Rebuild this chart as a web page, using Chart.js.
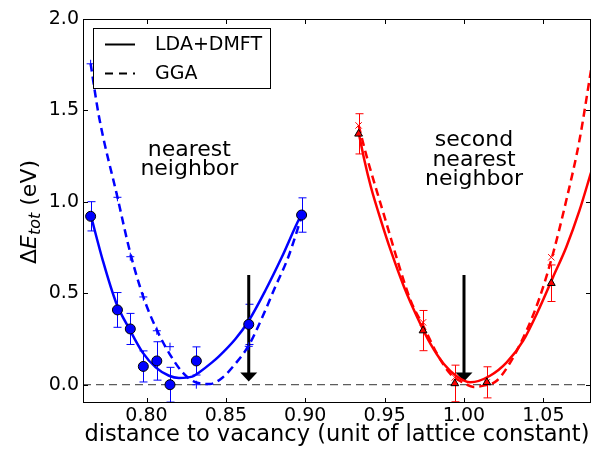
<!DOCTYPE html>
<html>
<head>
<meta charset="utf-8">
<script src="https://cdn.jsdelivr.net/npm/chart.js@4.4.0/dist/chart.umd.min.js"></script>
<style>
  html, body { margin: 0; padding: 0; background: #fff; }
  #chart { display: block; }
</style>
</head>
<body>
<canvas id="chart" width="597" height="450"></canvas>
<script>
// nearest neighbour (blue) data
const blueDistance = [0.7648, 0.7817, 0.7898, 0.798, 0.8065, 0.8148, 0.8314, 0.8644, 0.8977];
const blueLdaDmft = [0.921, 0.409, 0.305, 0.1, 0.13, 0.0, 0.13, 0.33, 0.928];
const blueLdaDmftErr = [0.08, 0.095, 0.085, 0.085, 0.105, 0.095, 0.077, 0.11, 0.094];
const blueGga = [1.755, 1.025, 0.7, 0.48, 0.295, 0.208, 0.0, 0.21, 0.92];

// second nearest neighbour (red) data
const redDistance = [0.9336, 0.9742, 0.9942, 1.0144, 1.055];
const redLdaDmft = [1.372, 0.296, 0.007, 0.013, 0.555];
const redLdaDmftErr = [0.11, 0.11, 0.1, 0.085, 0.1];
const redGga = [1.418, 0.341, 0.04, 0.013, 0.697];

// fitted curves
const blueFitX = [0.7648, 0.7725, 0.7808, 0.7892, 0.7975, 0.8058, 0.8142, 0.8204, 0.8288, 0.8331, 0.8413, 0.8456, 0.856, 0.8644, 0.8748, 0.8852, 0.8967, 0.8977];
const blueFitY = [0.93, 0.679, 0.45, 0.305, 0.177, 0.095, 0.049, 0.037, 0.044, 0.067, 0.122, 0.155, 0.25, 0.35, 0.514, 0.697, 0.916, 0.93];
const blueGgaFitX = [0.7648, 0.77, 0.7817, 0.7898, 0.798, 0.8065, 0.8148, 0.823, 0.8314, 0.84, 0.848, 0.856, 0.8644, 0.873, 0.881, 0.8894, 0.8977];
const blueGgaFitY = [1.755, 1.47, 1.025, 0.72, 0.48, 0.3, 0.165, 0.065, 0.012, 0.004, 0.04, 0.115, 0.215, 0.37, 0.533, 0.7, 0.92];
const redFitX = [0.9336, 0.9373, 0.9414, 0.9477, 0.9539, 0.9623, 0.9706, 0.9789, 0.9873, 0.9956, 1.004, 1.0164, 1.0269, 1.0373, 1.0477, 1.056, 1.0644, 1.0727, 1.08];
const redFitY = [1.381, 1.226, 1.08, 0.898, 0.733, 0.533, 0.368, 0.223, 0.113, 0.045, 0.013, 0.049, 0.122, 0.241, 0.423, 0.587, 0.752, 0.952, 1.16];
const redGgaFitX = [0.9336, 0.9394, 0.9456, 0.9519, 0.9581, 0.9664, 0.9748, 0.9831, 0.9914, 0.9998, 1.006, 1.0123, 1.0206, 1.029, 1.0394, 1.0477, 1.056, 1.0644, 1.0727, 1.08];
const redGgaFitY = [1.418, 1.226, 1.044, 0.861, 0.679, 0.46, 0.314, 0.168, 0.059, 0.01, -0.012, -0.005, 0.022, 0.12, 0.296, 0.478, 0.715, 1.007, 1.335, 1.72];

// arrows marking the vacancy distances
const arrowX = [0.8644, 1.0];
const arrowTop = [0.6, 0.6];
const arrowTip = [0.018, 0.018];

const xTicks = [0.80, 0.85, 0.90, 0.95, 1.00, 1.05];
const yTicks = [0.0, 0.5, 1.0, 1.5, 2.0];
const legendLabels = ["LDA+DMFT", "GGA"];
const nearestLabel = ["nearest", "neighbor"];
const secondLabel = ["second", "nearest", "neighbor"];

const FONT = '"DejaVu Sans", sans-serif';
const BLUE = "#0000ff";
const RED = "#ff0000";

function pts(xs, ys) {
  return xs.map((x, i) => ({ x: x, y: ys[i] }));
}

// error bars, arrows, frame, inward ticks, legend, labels
const decorPlugin = {
  id: "decor",
  beforeDatasetsDraw(chart) {
    const ctx = chart.ctx;
    const xs = chart.scales.x, ys = chart.scales.y;
    const area = chart.chartArea;
    ctx.save();
    ctx.beginPath();
    ctx.rect(area.left, area.top, area.right - area.left, area.bottom - area.top);
    ctx.clip();

    function errBars(xv, yv, ev, color) {
      ctx.strokeStyle = color;
      ctx.lineWidth = 1;
      xv.forEach((x, i) => {
        const px = Math.round(xs.getPixelForValue(x)) + 0.5;
        const top = ys.getPixelForValue(yv[i] + ev[i]);
        const bot = ys.getPixelForValue(yv[i] - ev[i]);
        ctx.beginPath();
        ctx.moveTo(px, top); ctx.lineTo(px, bot);
        ctx.moveTo(px - 4, top); ctx.lineTo(px + 4, top);
        ctx.moveTo(px - 4, bot); ctx.lineTo(px + 4, bot);
        ctx.stroke();
      });
    }
    errBars(blueDistance, blueLdaDmft, blueLdaDmftErr, BLUE);
    errBars(redDistance, redLdaDmft, redLdaDmftErr, RED);

    // arrows
    ctx.fillStyle = "#000";
    ctx.strokeStyle = "#000";
    arrowX.forEach((x, i) => {
      const px = xs.getPixelForValue(x);
      const top = ys.getPixelForValue(arrowTop[i]);
      const tip = ys.getPixelForValue(arrowTip[i]);
      ctx.lineWidth = 3;
      ctx.beginPath();
      ctx.moveTo(px, top); ctx.lineTo(px, tip - 8);
      ctx.stroke();
      ctx.beginPath();
      ctx.moveTo(px - 8.5, tip - 9);
      ctx.lineTo(px + 8.5, tip - 9);
      ctx.lineTo(px, tip);
      ctx.closePath();
      ctx.fill();
    });
    ctx.restore();
  },
  afterDraw(chart) {
    const ctx = chart.ctx;
    const xs = chart.scales.x, ys = chart.scales.y;
    const a = chart.chartArea;
    ctx.save();
    // frame
    ctx.strokeStyle = "#000";
    ctx.lineWidth = 1;
    ctx.strokeRect(Math.round(a.left) + 0.5, Math.round(a.top) + 0.5, Math.round(a.right - a.left) - 1, Math.round(a.bottom - a.top) - 1);
    // inward ticks on all sides
    ctx.beginPath();
    xTicks.forEach(v => {
      const px = Math.round(xs.getPixelForValue(v)) + 0.5;
      ctx.moveTo(px, a.bottom); ctx.lineTo(px, a.bottom - 5);
      ctx.moveTo(px, a.top); ctx.lineTo(px, a.top + 5);
    });
    yTicks.forEach(v => {
      const py = Math.round(ys.getPixelForValue(v)) + 0.5;
      ctx.moveTo(a.left, py); ctx.lineTo(a.left + 5, py);
      ctx.moveTo(a.right, py); ctx.lineTo(a.right - 5, py);
    });
    ctx.stroke();

    // legend
    const lx = a.left + 10, ly = a.top + 9;
    ctx.fillStyle = "#fff";
    ctx.fillRect(lx, ly, 177, 60);
    ctx.strokeStyle = "#000";
    ctx.strokeRect(lx + 0.5, ly + 0.5, 177, 60);
    ctx.lineWidth = 2;
    ctx.beginPath();
    ctx.moveTo(lx + 12, ly + 16.5); ctx.lineTo(lx + 42, ly + 16.5);
    ctx.stroke();
    ctx.setLineDash([8, 6]);
    ctx.beginPath();
    ctx.moveTo(lx + 12, ly + 45.5); ctx.lineTo(lx + 42, ly + 45.5);
    ctx.stroke();
    ctx.setLineDash([]);
    ctx.fillStyle = "#000";
    ctx.font = "19px " + FONT;
    ctx.textBaseline = "middle";
    ctx.textAlign = "left";
    ctx.fillText(legendLabels[0], lx + 62, ly + 17);
    ctx.fillText(legendLabels[1], lx + 62, ly + 46);

    // region labels
    ctx.font = "22px " + FONT;
    ctx.textAlign = "center";
    const n1x = xs.getPixelForValue(0.827), n1y = ys.getPixelForValue(1.28);
    nearestLabel.forEach((t, i) => ctx.fillText(t, n1x, n1y + i * 19));
    const n2x = xs.getPixelForValue(1.0063), n2y = ys.getPixelForValue(1.335);
    secondLabel.forEach((t, i) => ctx.fillText(t, n2x, n2y + i * 19.5));

    // y axis title: ΔE_tot (eV)
    const parts = [
      ["\u0394", "22px " + FONT, 0],
      ["E", "italic 22px " + FONT, 0],
      ["tot", "italic 16px " + FONT, 4],
      [" (eV)", "22px " + FONT, 0]
    ];
    let total = 0;
    parts.forEach(p => { ctx.font = p[1]; total += ctx.measureText(p[0]).width; });
    ctx.translate(36, 212);
    ctx.rotate(-Math.PI / 2);
    ctx.textAlign = "left";
    ctx.textBaseline = "alphabetic";
    let cx = -total / 2;
    parts.forEach(p => {
      ctx.font = p[1];
      ctx.fillText(p[0], cx, p[2]);
      cx += ctx.measureText(p[0]).width;
    });
    ctx.restore();
  }
};

new Chart(document.getElementById("chart"), {
  type: "scatter",
  data: {
    datasets: [
      {
        label: "LDA+DMFT nearest", data: pts(blueDistance, blueLdaDmft),
        pointStyle: "circle", pointRadius: 5, backgroundColor: BLUE, borderColor: "#000", borderWidth: 1
      },
      {
        label: "GGA nearest", data: pts(blueDistance, blueGga),
        pointStyle: "cross", pointRadius: 4, borderColor: BLUE, borderWidth: 1
      },
      {
        label: "LDA+DMFT second", data: pts(redDistance, redLdaDmft),
        pointStyle: "triangle", pointRadius: 4.5, backgroundColor: RED, borderColor: "#000", borderWidth: 1
      },
      {
        label: "GGA second", data: pts(redDistance, redGga),
        pointStyle: "crossRot", pointRadius: 4.5, borderColor: RED, borderWidth: 1
      },
      {
        label: "fit blue", data: pts(blueFitX, blueFitY), showLine: true, pointRadius: 0,
        borderColor: BLUE, borderWidth: 2.5, cubicInterpolationMode: "monotone"
      },
      {
        label: "fit blue gga", data: pts(blueGgaFitX, blueGgaFitY), showLine: true, pointRadius: 0,
        borderColor: BLUE, borderWidth: 2.5, borderDash: [8, 5], cubicInterpolationMode: "monotone"
      },
      {
        label: "fit red", data: pts(redFitX, redFitY), showLine: true, pointRadius: 0,
        borderColor: RED, borderWidth: 2.5, cubicInterpolationMode: "monotone"
      },
      {
        label: "fit red gga", data: pts(redGgaFitX, redGgaFitY), showLine: true, pointRadius: 0,
        borderColor: RED, borderWidth: 2.5, borderDash: [8, 5], cubicInterpolationMode: "monotone"
      },
      {
        label: "zero", data: [{ x: 0.76, y: 0 }, { x: 1.08, y: 0 }], showLine: true, pointRadius: 0,
        borderColor: "#333", borderWidth: 1, borderDash: [8, 5]
      }
    ]
  },
  options: {
    responsive: false,
    animation: false,
    devicePixelRatio: 1,
    layout: { padding: { left: 0, right: 3, top: 19, bottom: 0 } },
    plugins: { legend: { display: false }, tooltip: { enabled: false } },
    scales: {
      x: {
        type: "linear", min: 0.76, max: 1.08,
        afterBuildTicks: s => { s.ticks = xTicks.map(v => ({ value: v })); },
        afterFit: s => { s.height = 47; },
        grid: { display: false, drawTicks: false },
        border: { display: false },
        ticks: { font: { family: FONT, size: 19 }, color: "#000", padding: 2, maxRotation: 0,
          callback: v => v.toFixed(2) },
        title: { display: true, text: "distance to vacancy (unit of lattice constant)",
          font: { family: FONT, size: 22.5 }, color: "#000", padding: { top: 0, bottom: 1 } }
      },
      y: {
        type: "linear", min: -0.1, max: 2.0,
        afterBuildTicks: s => { s.ticks = yTicks.map(v => ({ value: v })); },
        afterFit: s => { s.width = 83; },
        grid: { display: false, drawTicks: false },
        border: { display: false },
        ticks: { font: { family: FONT, size: 19 }, color: "#000", padding: 4,
          callback: v => v.toFixed(1) }
      }
    }
  },
  plugins: [decorPlugin]
});
</script>
</body>
</html>
